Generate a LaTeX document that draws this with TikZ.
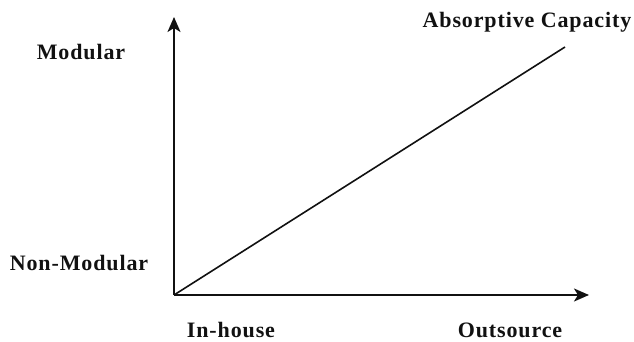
\documentclass[tikz,border=0pt]{standalone}
\usepackage{fontspec}
\setmainfont{Liberation Serif}[LetterSpace=4]
\usetikzlibrary{arrows.meta, positioning}
\definecolor{darkline}{HTML}{111111}
\tikzset{
  axis/.style={-{Stealth[length=15pt, width=13pt, inset=4pt]}, line width=2pt, draw=darkline},
  trend/.style={line width=1.6pt, draw=darkline},
  axlabel/.style={font=\fontsize{22}{25}\selectfont\bfseries, text=darkline, inner sep=0pt},
}

\begin{document}
\begin{tikzpicture}[x=1pt, y=-1pt]

% Frame (reference proportions)
\useasboundingbox (0,0) rectangle (634,342);

% Axes
\coordinate (origin) at (174,295);
\coordinate (ytip)   at (174,17);
\coordinate (xtip)   at (589,295);
\coordinate (capend) at (565,47);

\draw[axis] (origin) -- (ytip);
\draw[axis] (origin) -- (xtip);
\draw[trend] (origin) -- (capend);

% Labels
\node[axlabel] (modular)    at (81,52)   {Modular};
\node[axlabel] (nonmodular) at (79,263)  {Non-Modular};
\node[axlabel] (inhouse)    at (231,330) {In-house};
\node[axlabel] (outsource)  at (510,330) {Outsource};
\node[axlabel] (abscap)     at (527,22)  {Absorptive Capacity};

\end{tikzpicture}
\end{document}
